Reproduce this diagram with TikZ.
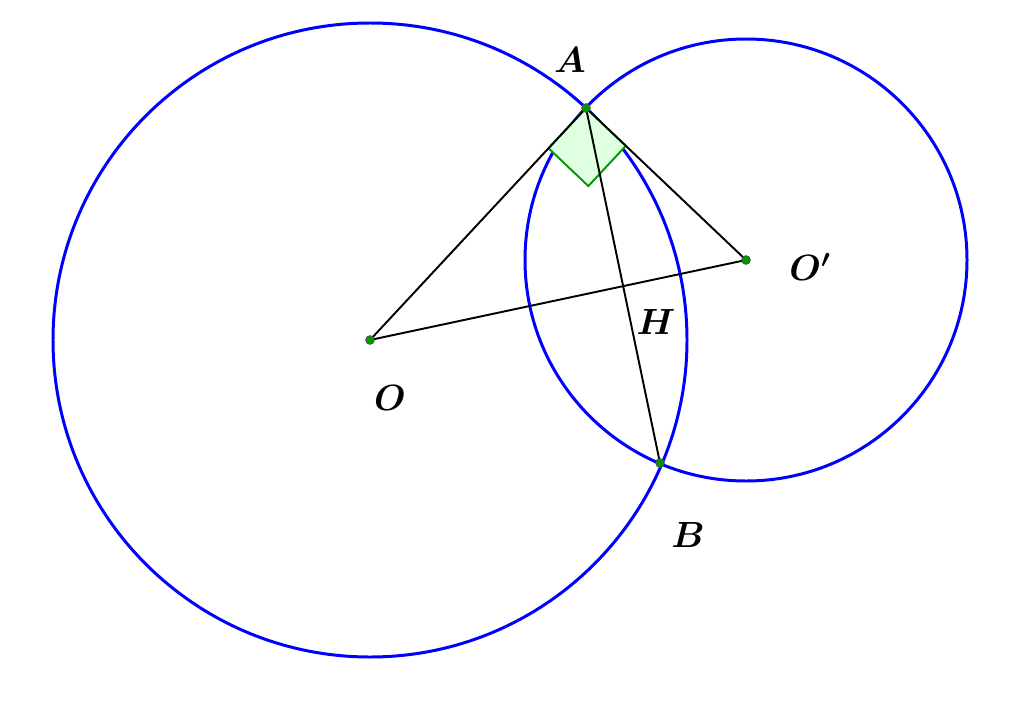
\documentclass[tikz,border=0pt]{standalone}
\usetikzlibrary{calc}
\begin{document}
\begin{tikzpicture}[x=0.02cm,y=-0.02cm,
  circ/.style={blue,line width=1.7pt},
  seg/.style={black,line width=1.1pt},
  pt/.style={circle,fill=green!60!black,draw=black!70,line width=0.4pt,inner sep=0pt,minimum size=5pt},
  lbl/.style={font=\fontsize{20}{24}\selectfont\boldmath}]
\useasboundingbox (0,0) rectangle (1024,703);
\coordinate (O) at (370,340);
\coordinate (Op) at (746,260);
\coordinate (A) at (586,108);
\coordinate (B) at (660,463);
\coordinate (H) at (623,285.5);
\draw[circ] (O) circle[radius=317];
\draw[circ] (Op) circle[radius=221];
\coordinate (P1) at ($(A)!55/317!(O)$);
\coordinate (P2) at ($(A)!55/221!(Op)$);
\coordinate (P3) at ($(P1)+(P2)-(A)$);
\filldraw[fill=green!12,draw=green!60!black,line width=1.1pt] (A) -- (P1) -- (P3) -- (P2) -- cycle;
\draw[seg] (O) -- (A) -- (Op) -- (O);
\draw[seg] (A) -- (B);
\node[pt] (nA) at (A) {};
\node[pt] (nB) at (B) {};
\node[pt] (nO) at (O) {};
\node[pt] (nOp) at (Op) {};
\node[lbl] (lA) at (570,60) {$A$};
\node[lbl] (lOp) at (810,267) {$O'$};
\node[lbl] (lH) at (656,322) {$H$};
\node[lbl] (lO) at (390,398) {$O$};
\node[lbl] (lB) at (688,535) {$B$};
\end{tikzpicture}
\end{document}
